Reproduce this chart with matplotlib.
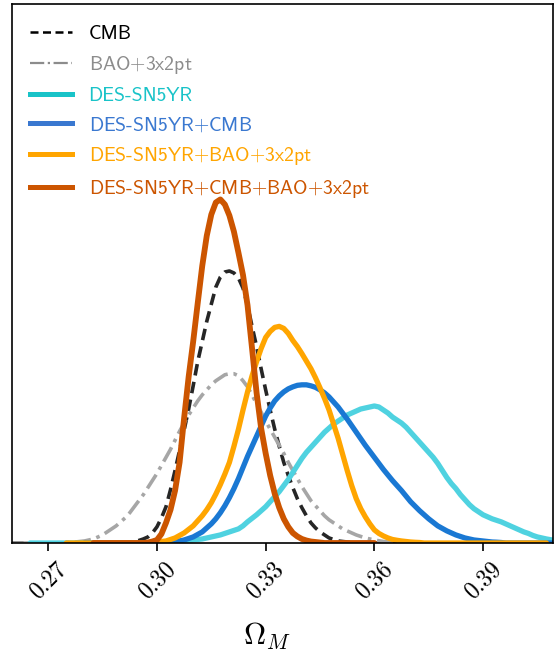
import numpy as np
import matplotlib
matplotlib.use("Agg")
import matplotlib.pyplot as plt
from matplotlib.lines import Line2D

nan = np.nan

# Omega_M grid on which the 1D marginal posteriors are tabulated (step 0.00125)
omega_m = np.linspace(0.26, 0.41, 121)

# Relative posterior heights (arbitrary units)
cmb = ([0] * 22 +
       [0.2, 0.3, 0.5, 0.7, 1, 1.5, 2.5, 4, 6, 10, 16, 25, 36, 53, 72, 92, 112,
        133, 156, 180, 200, 220, 237, 254, 264, 269, 270, 268, 263, 253, 236,
        215, 195, 173, 152, 132, 113, 96, 80, 67, 55, 44, 35, 27, 20, 15, 11,
        8, 5, 3.5, 2, 1.5, 1, 0.5] +
       [0] * 15 + [nan] * 30)

bao_3x2pt = ([0] * 10 +
             [0.2, 0.3, 0.5, 0.7, 1, 1.5, 2, 3, 4, 6, 8, 11, 14, 17, 21, 25, 30,
              36, 42, 48, 55, 62, 69, 77, 85, 93, 102, 111, 119, 127, 134, 141,
              147, 152, 157, 161, 164, 167, 168, 168, 166, 161, 155, 147, 138,
              130, 121, 113, 105, 97, 89, 80, 72, 64, 56, 49, 42, 37, 32, 27,
              23, 20, 17, 14, 12, 10, 8, 6.5, 5, 4, 3, 2.2, 1.5, 1, 0.5, 0.3] +
             [0] * 3 + [nan] * 32)

sn5yr = ([nan] * 4 + [0] * 24 +
         [0.2, 0.3, 0.5, 0.5, 0.7, 0.8, 1, 1.2, 1.5, 1.8, 2.2, 2.6, 3, 3.5, 4,
          5, 6, 7, 8, 9.5, 11, 12.5, 14, 17, 21, 24.5, 28, 32, 36, 41, 46, 51,
          57, 63, 70, 77, 84, 90, 95, 100, 105, 110, 114, 118, 121, 124, 127,
          129, 131, 133, 134, 135, 136, 135, 132, 129, 125, 122, 119, 115, 110,
          105, 100, 95, 90, 85, 79, 72, 65, 59, 54, 48, 43, 38, 34, 31, 28, 26,
          24, 22.5, 21, 19, 17, 15, 13, 11, 9.5, 7.5, 6, 5, 4, 3.2, 2.5])

sn5yr_cmb = ([nan] * 16 + [0] * 18 +
             [0.5, 0.7, 1, 2, 3, 4.5, 6, 8.5, 11, 15, 19, 24, 30, 37, 45, 54,
              64, 75, 86, 96, 106, 116, 126, 134, 141, 146, 150, 153, 155,
              156.5, 157, 157, 156, 154.5, 152, 149, 145, 140, 135, 129, 123,
              116.5, 110, 103.5, 97, 91, 85, 79, 73, 67.5, 62, 57, 52, 46.5,
              41, 36.5, 32, 28, 24, 20.5, 17, 14.5, 12, 10, 8, 6.5, 5, 4, 3,
              2.5, 2, 1.5, 1, 0.8, 0.5] +
             [0] * 12)

sn5yr_bao = ([nan] * 12 + [0] * 18 +
             [0.3, 0.6, 1, 1.5, 2, 3.5, 5, 7.5, 10, 13.5, 17, 22, 27, 33, 40,
              48.5, 58, 68.5, 80, 96, 113, 132, 150, 166, 180, 193, 204, 210,
              214, 215, 213, 208, 201, 195, 188, 180.5, 173, 164, 154, 143.5,
              132, 118, 104, 88, 72, 57, 44, 34, 26, 19, 13, 9.5, 7, 5, 3.5,
              2.7, 2, 1.5, 1, 0.7, 0.5] +
             [0] * 28 + [nan] * 2)

sn5yr_cmb_bao = ([nan] * 18 + [0] * 12 +
                 [0.5, 1.5, 3, 9, 20, 33, 52, 80, 124, 165, 200, 238, 275, 305,
                  326, 338, 341, 336, 325, 309, 288, 266, 236, 193, 149, 114,
                  89, 67, 49, 35, 24, 16, 10, 6.5, 4, 2.5, 1.5, 1, 0.5] +
                 [0] * 12 + [nan] * 40)

labels = ["CMB", "BAO$+$3x2pt", "DES-SN5YR", "DES-SN5YR$+$CMB",
          "DES-SN5YR$+$BAO$+$3x2pt", "DES-SN5YR$+$CMB$+$BAO$+$3x2pt"]
tick_values = [0.27, 0.30, 0.33, 0.36, 0.39]
tick_labels = ["0.27", "0.30", "0.33", "0.36", "0.39"]

plt.rcParams["mathtext.fontset"] = "cm"
plt.rcParams["axes.unicode_minus"] = False

W, H = 556, 651
fig = plt.figure(figsize=(W / 100, H / 100), dpi=100)
ax = fig.add_axes([12 / W, 1 - 543 / H, 541 / W, 539 / H])

line_colors = ["#262626", "#a6a6a6", "#4fd2e0", "#1a78d3", "#ffa500", "#cc5500"]
leg_colors = ["#000000", "#8c8c8c", "#19c3c8", "#3a78d0", "#ffa500", "#cc5500"]
styles = [(0, (3.2, 1.8)), (0, (4.5, 1.6, 1.0, 1.6)), "-", "-", "-", "-"]
widths = [2.6, 2.6, 3.8, 3.8, 3.8, 4.2]
series = [cmb, bao_3x2pt, sn5yr, sn5yr_cmb, sn5yr_bao, sn5yr_cmb_bao]

for y, c, ls, lw in zip(series, line_colors, styles, widths):
    ax.plot(omega_m, np.array(y, dtype=float), color=c, ls=ls, lw=lw,
            solid_capstyle="round", solid_joinstyle="round",
            dash_capstyle="butt", dash_joinstyle="round")

ax.set_xlim(0.26, 0.4093)
ax.set_ylim(0, 535)
ax.set_yticks([])
ax.set_xticks(tick_values)
ax.set_xticklabels(tick_labels, rotation=45, ha="center", family="cmr10",
                   fontsize=17)
ax.tick_params(axis="x", direction="out", length=6, width=1.2, pad=5,
               top=False)
for s in ax.spines.values():
    s.set_linewidth(1.2)
    s.set_color("black")

ax.set_xlabel(r"$\Omega_M$", fontsize=22)
ax.xaxis.set_label_coords((267 - 12) / 541, -0.145)

handles = [Line2D([], [], color=c, ls=ls, lw=lw)
           for c, ls, lw in zip(leg_colors,
                                [(0, (3.2, 1.8)), "-.", "-", "-", "-", "-"],
                                [1.8, 1.6, 3.6, 3.6, 3.6, 3.6])]
leg = ax.legend(handles, labels, loc="upper left", frameon=False,
                bbox_to_anchor=(18 / 541, 1 - 21 / 539), borderaxespad=0,
                borderpad=0, handlelength=2.12, handletextpad=0.85,
                labelspacing=0.55, prop={"family": "cmss10", "size": 14.2})
for t, c in zip(leg.get_texts(), leg_colors):
    t.set_color(c)

fig.savefig("out.png", dpi=100)
